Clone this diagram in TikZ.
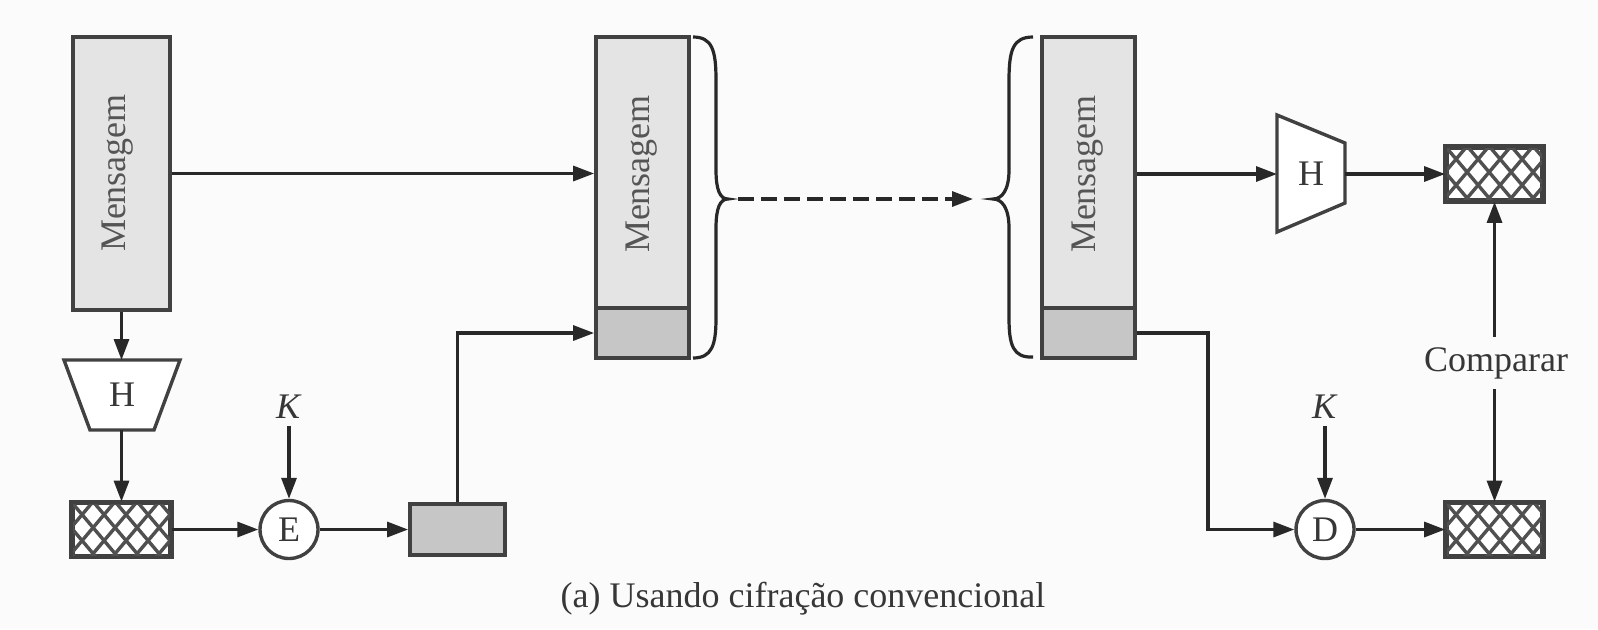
\documentclass[tikz,border=0pt]{standalone}
\usepackage{fontspec}
\setmainfont{Liberation Serif}
\usetikzlibrary{arrows.meta,calc}

% one drawing unit = 0.5pt
\newcommand{\pxl}{0.5pt}

\definecolor{bordercol}{RGB}{65,65,65}
\definecolor{linecol}{RGB}{40,40,40}
\definecolor{msgfill}{RGB}{228,228,228}
\definecolor{sigfill}{RGB}{198,198,198}
\definecolor{txtcol}{RGB}{55,55,55}
\definecolor{bgcol}{RGB}{251,251,251}
\definecolor{hatchcol}{RGB}{80,80,80}

\tikzset{
  box/.style={draw=bordercol, line width=1.9pt, inner sep=0pt},
  msgbox/.style={box, fill=msgfill},
  sigbox/.style={box, fill=sigfill},
  hashbox/.style={box, fill=white, minimum width={95*\pxl}, minimum height={52*\pxl}},
  op/.style={circle, draw=bordercol, line width=1.7pt, fill=white,
    minimum size={58*\pxl}, inner sep=0pt, font=\fontsize{18}{20}\selectfont, text=txtcol},
  conn/.style={draw=linecol, line width=1.6pt, -{Triangle[length=10.5pt,width=7.5pt]}},
  lbl/.style={font=\fontsize{18}{20}\selectfont, text=txtcol},
  vlbl/.style={lbl, rotate=90, text=txtcol!85!white},
  hatchline/.style={draw=hatchcol, line width=1.7pt},
  shapeline/.style={draw=bordercol, line width=1.7pt, fill=white, line join=miter},
  bracestyle/.style={draw=linecol, line width=1.6pt},
}

% cross-hatched fill for a hash box, border drawn again on top
\newcommand{\hatchin}[1]{%
  \begin{scope}
    \clip (#1.south west) rectangle (#1.north east);
    \foreach \k in {-4,...,9} {
      \draw[hatchline] ([xshift=\k*11pt]#1.north west) -- ++(66,78);
      \draw[hatchline] ([xshift=\k*11pt]#1.north west) -- ++(-66,78);
    }
  \end{scope}
  \draw[box] (#1.south west) rectangle (#1.north east);
}

\begin{document}
\begin{tikzpicture}[x=0.5pt, y=-0.5pt]
  \fill[bgcol] (0,0) rectangle (1598,629);
  \useasboundingbox (0,0) rectangle (1598,629);

  % ---------- sender ----------
  \node[msgbox, minimum width={97*\pxl}, minimum height={273*\pxl}] (msg1) at (121.5,173.5) {};
  \node[vlbl] (t1) at (118,173) {Mensagem};

  \draw[shapeline] (64,360) -- (180,360) -- (154,430) -- (90,430) -- cycle;
  \node[lbl] (h1) at (122,395) {H};
  \coordinate (h1in) at (121.5,360);
  \coordinate (h1out) at (121.5,430);

  \node[hashbox, minimum width={97*\pxl}] (hash1) at (121.5,529.5) {};
  \hatchin{hash1}

  \node[op] (enc) at (289,529.5) {E};
  \node[lbl] (k1) at (289,407) {\textit{K}};

  \node[sigbox, minimum width={95*\pxl}, minimum height={51*\pxl}] (sig1) at (457.5,529.5) {};

  % ---------- transmitted block ----------
  \node[msgbox, minimum width={93*\pxl}, minimum height={271*\pxl}] (msg2) at (642.5,172.5) {};
  \node[sigbox, minimum width={93*\pxl}, minimum height={50*\pxl}] (sig2) at (642.5,333) {};
  \node[vlbl] (t2) at (642,174) {Mensagem};

  \draw[bracestyle] (693,37) .. controls (712,37) and (716,50) .. (716,80)
    -- (716,170) .. controls (716,190) and (720,199) .. (728,199)
    .. controls (720,199) and (716,208) .. (716,228)
    -- (716,318) .. controls (716,345) and (712,358) .. (693,358);
  \coordinate (br1tip) at (728,199);

  % ---------- receiver ----------
  \node[msgbox, minimum width={93*\pxl}, minimum height={271*\pxl}] (msg3) at (1088.5,172.5) {};
  \node[sigbox, minimum width={93*\pxl}, minimum height={50*\pxl}] (sig3) at (1088.5,333) {};
  \node[vlbl] (t3) at (1088,174) {Mensagem};

  \draw[bracestyle] (1033,37) .. controls (1013,37) and (1009,50) .. (1009,80)
    -- (1009,170) .. controls (1009,190) and (1002,199) .. (993,199)
    .. controls (1002,199) and (1009,208) .. (1009,228)
    -- (1009,318) .. controls (1009,345) and (1013,358) .. (1033,357);
  \coordinate (br2tip) at (993,199);

  \draw[shapeline] (1277,115) -- (1345,143) -- (1345,203) -- (1277,232) -- cycle;
  \node[lbl] (h2) at (1311,174) {H};
  \coordinate (h2in) at (1277,174);
  \coordinate (h2out) at (1345,174);

  \node[hashbox] (hash2) at (1494.5,174) {};
  \hatchin{hash2}

  \node[op] (dec) at (1325,529.5) {D};
  \node[lbl] (k2) at (1325,407) {\textit{K}};

  \node[hashbox] (hash3) at (1494.5,529.5) {};
  \hatchin{hash3}

  \node[lbl, inner sep=5pt] (cmp) at (1496,363) {Comparar};

  \coordinate (turn) at (1208,333);

  % ---------- connectors ----------
  \draw[conn] (msg1.east) -- (msg1.east -| msg2.west);
  \draw[conn] (msg1.south) -- (h1in);
  \draw[conn] (h1out) -- (hash1.north);
  \draw[conn] (hash1.east) -- (enc.west);
  \draw[conn] (k1) -- (enc.north);
  \draw[conn] (enc.east) -- (sig1.west);
  \draw[conn] (sig1.north) |- (sig2.west);

  \draw[conn, dash pattern=on 8pt off 3.5pt, shorten <=5pt, shorten >=10pt] (br1tip) -- (br2tip);

  \draw[conn] (msg3.east |- h2in) -- (h2in);
  \draw[conn] (h2out) -- (hash2.west);
  \draw[conn] (sig3.east) -- (turn) |- (dec.west);
  \draw[conn] (k2) -- (dec.north);
  \draw[conn] (dec.east) -- (hash3.west);
  \draw[conn] (cmp.north -| hash2.south) -- (hash2.south);
  \draw[conn] (cmp.south -| hash3.north) -- (hash3.north);

  \node[lbl, anchor=base] (cap) at (803,607) {(a) Usando cifração convencional};
\end{tikzpicture}
\end{document}
